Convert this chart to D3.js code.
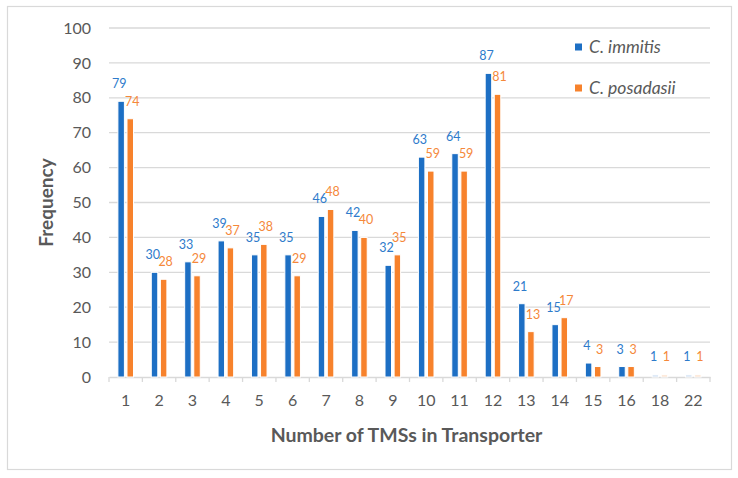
<!DOCTYPE html>
<meta charset="utf-8">
<head>
<style>
  body { margin: 0; background: #fff; }
  text { font-family: Lato, "Open Sans", sans-serif; }
</style>
</head>
<body>
<svg id="chart"></svg>
<script src="https://d3js.org/d3.v7.min.js"></script>
<script>
// data
var categories = ["1","2","3","4","5","6","7","8","9","10","11","12","13","14","15","16","18","22"];
var immitis   = [79, 30, 33, 39, 35, 35, 46, 42, 32, 63, 64, 87, 21, 15, 4, 3, 1, 1];
var posadasii = [74, 28, 29, 37, 38, 29, 48, 40, 35, 59, 59, 81, 13, 17, 3, 3, 1, 1];
var seriesNames = ["C. immitis", "C. posadasii"];
var yTicks = [0, 10, 20, 30, 40, 50, 60, 70, 80, 90, 100];
// the last two groups are drawn washed out in the original
var faint = ["18", "22"];

var W = 738, H = 478;
var margin = {top: 28, right: 28, bottom: 101, left: 109};
var width = W - margin.left - margin.right,
    height = H - margin.top - margin.bottom;

var blue = "#1d6fc4", orange = "#f7822c";
var blueLbl = "#2e7bcb", orangeLbl = "#f5883a";
var grey = "#595959";

var svg = d3.select("#chart").attr("width", W).attr("height", H);

// outer frame
svg.append("rect")
    .attr("x", 7.5).attr("y", 6.5)
    .attr("width", 724).attr("height", 463)
    .attr("fill", "#fff").attr("stroke", "#d9d9d9").attr("stroke-width", 1.2);

var g = svg.append("g")
    .attr("transform", "translate(" + margin.left + "," + margin.top + ")");

var x = d3.scaleBand().domain(categories).range([0, width]);
var y = d3.scaleLinear().domain([0, 100]).range([height, 0]);

var barW = 6.5, gap = 2.6;
var xs = d3.scaleOrdinal().domain(seriesNames)
    .range([-(gap / 2 + barW), gap / 2]);

// gridlines
g.selectAll(".grid").data(yTicks.filter(function(d){ return d > 0; }))
  .enter().append("line")
    .attr("x1", 0).attr("x2", width)
    .attr("y1", function(d){ return y(d); }).attr("y2", function(d){ return y(d); })
    .attr("stroke", "#d9d9d9").attr("stroke-width", 1.3);

// y tick labels
g.selectAll(".ylab").data(yTicks)
  .enter().append("text")
    .attr("x", -18).attr("y", function(d){ return y(d); })
    .attr("dy", "0.35em").attr("text-anchor", "end")
    .attr("fill", grey).style("font-size", "16px")
    .text(function(d){ return d; });

// x axis
var xAxis = g.append("g")
    .attr("transform", "translate(0," + height + ")")
    .call(d3.axisBottom(x).tickSize(0).tickPadding(18));
xAxis.select(".domain").attr("stroke", "#d9d9d9").attr("stroke-width", 1.3);
xAxis.selectAll("text").attr("fill", grey).style("font-size", "16px")
    .style("font-family", "Lato, sans-serif");
// tick marks sit between the categories
xAxis.selectAll(".sep").data(d3.range(categories.length + 1))
  .enter().append("line")
    .attr("x1", function(i){ return i * x.step(); })
    .attr("x2", function(i){ return i * x.step(); })
    .attr("y1", 0).attr("y2", 5)
    .attr("stroke", "#d9d9d9").attr("stroke-width", 1.3);

var series = [
  {name: seriesNames[0], values: immitis, color: blue, light: "#c9dcf1", lbl: blueLbl, shift: -1.8},
  {name: seriesNames[1], values: posadasii, color: orange, light: "#fcdcc3", lbl: orangeLbl, shift: 2}
];

series.forEach(function(s) {
  var data = categories.map(function(c, i){ return {cat: c, v: s.values[i]}; });
  g.selectAll(null).data(data).enter().append("rect")
      .attr("x", function(d){ return x(d.cat) + x.bandwidth() / 2 + xs(s.name); })
      .attr("width", barW)
      .attr("y", function(d){ return faint.indexOf(d.cat) >= 0 ? y(d.v * 0.6) : y(d.v); })
      .attr("height", function(d){ return height - (faint.indexOf(d.cat) >= 0 ? y(d.v * 0.6) : y(d.v)); })
      .attr("fill", function(d){ return faint.indexOf(d.cat) >= 0 ? s.light : s.color; })
      .attr("stroke", "#fff").attr("stroke-width", 1);

  g.selectAll(null).data(data).enter().append("text")
      .attr("x", function(d){ return x(d.cat) + x.bandwidth() / 2 + xs(s.name) + barW / 2 + s.shift; })
      .attr("y", function(d){ return y(d.v) - 13; })
      .attr("text-anchor", "middle")
      .attr("fill", s.lbl).style("font-size", "12.5px")
      .text(function(d){ return d.v; });
});

// axis titles
svg.append("text")
    .attr("x", margin.left + width / 2 - 3).attr("y", 442)
    .attr("text-anchor", "middle")
    .attr("fill", grey).style("font-size", "19.5px").style("font-weight", "bold")
    .text("Number of TMSs in Transporter");

svg.append("text")
    .attr("transform", "translate(53," + (margin.top + height / 2) + ") rotate(-90)")
    .attr("text-anchor", "middle")
    .attr("fill", grey).style("font-size", "19px").style("font-weight", "bold")
    .text("Frequency");

// legend
var legend = svg.selectAll(".leg").data(series).enter().append("g")
    .attr("transform", function(d, i){ return "translate(575," + (47 + i * 41) + ")"; });
legend.append("rect")
    .attr("x", 0).attr("y", -3.5).attr("width", 7).attr("height", 7)
    .attr("fill", function(d){ return d.color; });
legend.append("text")
    .attr("x", 14).attr("dy", "0.35em")
    .attr("fill", grey).style("font-size", "17.5px").style("font-style", "italic")
    .text(function(d){ return d.name; });
</script>
</body>
